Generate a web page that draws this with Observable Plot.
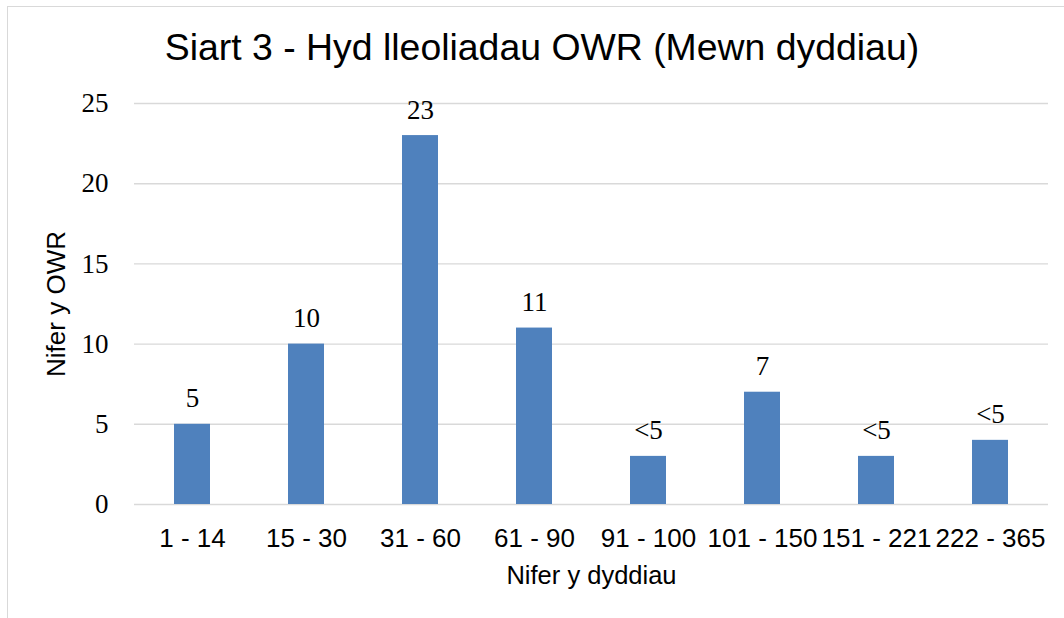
<!DOCTYPE html>
<html>
<head>
<meta charset="utf-8">
<script src="https://cdn.jsdelivr.net/npm/d3@7"></script>
<script src="https://cdn.jsdelivr.net/npm/@observablehq/plot@0.6"></script>
<style>
  html, body { margin: 0; padding: 0; background: #fff; }
  #wrap { position: relative; width: 1064px; height: 618px; overflow: hidden; background: #fff; }
  #frame { position: absolute; left: 7px; top: 6px; width: 1100px; height: 700px; border: 1.5px solid #d9d9d9; box-sizing: border-box; }
  #title { position: absolute; left: 0; width: 1084px; top: 29px; text-align: center; font-family: "Liberation Sans", Arial, sans-serif; font-size: 37.4px; color: #000; line-height: 1; white-space: nowrap; }
  #chart { position: absolute; left: 0; top: 0; }
</style>
</head>
<body>
<div id="wrap">
  <div id="frame"></div>
  <div id="chart"></div>
  <div id="title">Siart 3 - Hyd lleoliadau OWR (Mewn dyddiau)</div>
</div>
<script>
const categories = ["1 - 14", "15 - 30", "31 - 60", "61 - 90", "91 - 100", "101 - 150", "151 - 221", "222 - 365"];
const counts = [5, 10, 23, 11, 3, 7, 3, 4];
const labels = ["5", "10", "23", "11", "<5", "7", "<5", "<5"];
const yTicks = [0, 5, 10, 15, 20, 25];
const xTitle = "Nifer y dyddiau";
const yTitle = "Nifer y OWR";

const data = categories.map((c, i) => ({category: c, value: counts[i], label: labels[i]}));

const serif = "'Liberation Serif', 'Times New Roman', serif";
const sans = "'Liberation Sans', Arial, sans-serif";

const chart = Plot.plot({
  width: 1064,
  height: 618,
  marginLeft: 134,
  marginRight: 16,
  marginTop: 103,
  marginBottom: 114,
  style: {background: "transparent", overflow: "visible"},
  x: {domain: categories, paddingInner: 0.685, paddingOuter: 0.3425, label: null},
  y: {domain: [0, 25], label: null},
  marks: [
    Plot.gridY(yTicks, {stroke: "#d9d9d9", strokeOpacity: 1, strokeWidth: 1.4}),
    Plot.barY(data, {x: "category", y: "value", fill: "#4f81bd"}),
    Plot.text(data, {x: "category", y: "value", text: "label", lineAnchor: "bottom", dy: -17, fontFamily: serif, fontSize: 27, fill: "#000"}),
    Plot.axisY(yTicks, {tickSize: 0, tickPadding: 26, fontFamily: serif, fontSize: 27, color: "#000", label: null}),
    Plot.axisX({tickSize: 0, tickPadding: 24, fontFamily: sans, fontSize: 26, color: "#000", label: null}),
    Plot.text([xTitle], {frameAnchor: "bottom", dy: 79, fontFamily: sans, fontSize: 25.5, fill: "#000", lineAnchor: "bottom"}),
    Plot.text([yTitle], {frameAnchor: "left", dx: -78, rotate: -90, textAnchor: "middle", fontFamily: sans, fontSize: 26, fill: "#000"})
  ]
});
document.getElementById("chart").appendChild(chart);
</script>
</body>
</html>
